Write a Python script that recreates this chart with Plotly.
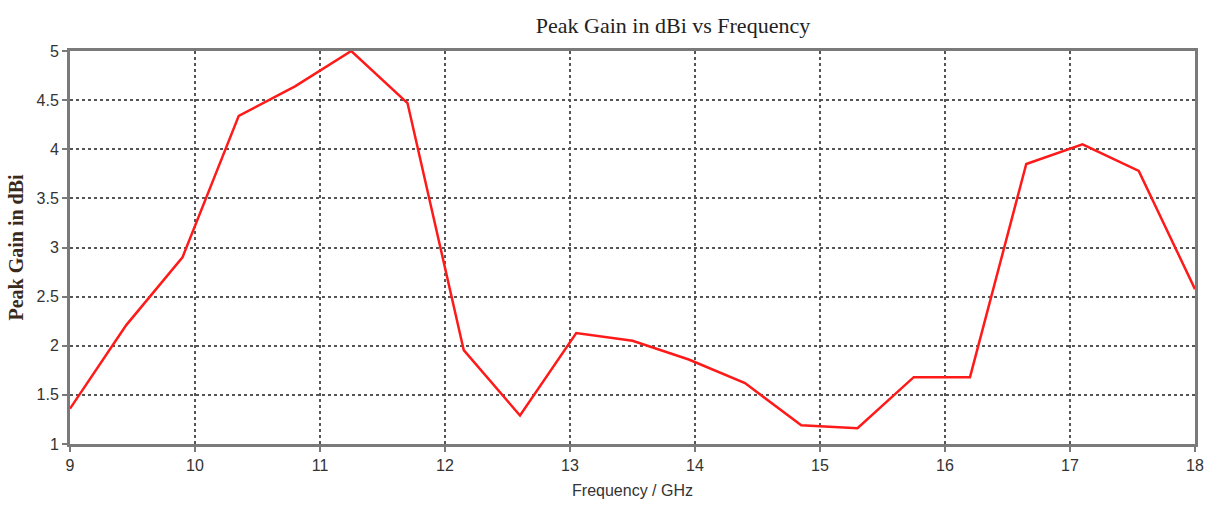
import plotly.graph_objects as go

freq = [9.0, 9.45, 9.9, 10.35, 10.8, 11.25, 11.7, 12.15, 12.6, 13.05, 13.5,
        13.95, 14.4, 14.85, 15.3, 15.75, 16.2, 16.65, 17.1, 17.55, 18.0]
gain = [1.36, 2.21, 2.90, 4.34, 4.64, 5.00, 4.47, 1.955, 1.29, 2.13, 2.05,
        1.86, 1.62, 1.19, 1.16, 1.68, 1.68, 3.85, 4.05, 3.78, 2.575]

x_ticks = [9, 10, 11, 12, 13, 14, 15, 16, 17, 18]
y_ticks = [1, 1.5, 2, 2.5, 3, 3.5, 4, 4.5, 5]
y_tick_text = ["1", "1.5", "2", "2.5", "3", "3.5", "4", "4.5", "5"]

fig = go.Figure()
fig.add_trace(go.Scatter(x=freq, y=gain, mode="lines",
                         line=dict(color="#ff1a1a", width=2.5),
                         showlegend=False, hoverinfo="x+y"))

axis_common = dict(
    showline=True, linecolor="#7a7a7a", linewidth=3, mirror=True,
    ticks="outside", ticklen=5, tickwidth=2, tickcolor="#7a7a7a",
    showgrid=True, gridcolor="#555555", gridwidth=1.5, griddash="dot",
    zeroline=False,
    tickfont=dict(family="Liberation Sans, Arial, sans-serif", size=16, color="#333333"),
)

fig.update_layout(
    width=1216, height=509,
    margin=dict(l=70, r=19, t=51, b=65),
    paper_bgcolor="white", plot_bgcolor="white",
    title=dict(text="Peak Gain in dBi vs Frequency", x=673 / 1216, xanchor="center",
               y=1 - 25 / 509, yanchor="middle",
               font=dict(family="Liberation Serif, Times New Roman, serif", size=22, color="#222222")),
    xaxis=dict(range=[9, 18], tickmode="array", tickvals=x_ticks,
               title=dict(text="Frequency / GHz", standoff=12,
                          font=dict(family="Liberation Sans, Arial, sans-serif", size=16, color="#333333")),
               **axis_common),
    yaxis=dict(range=[1, 5], tickmode="array", tickvals=y_ticks, ticktext=y_tick_text,
               title=dict(text="<b>Peak Gain in dBi</b>", standoff=8,
                          font=dict(family="Liberation Serif, Times New Roman, serif", size=20, color="#3a2a1a")),
               **axis_common),
)

fig.write_html("out.html")
